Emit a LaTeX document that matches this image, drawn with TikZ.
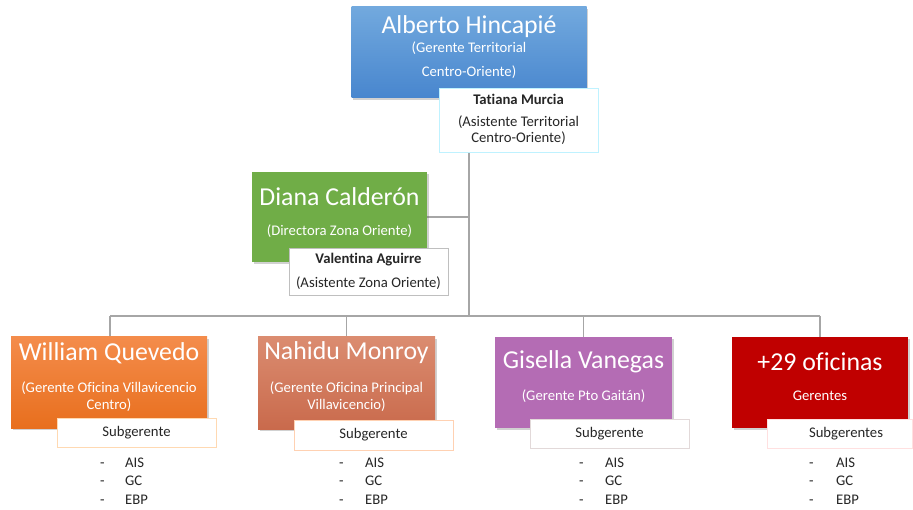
\documentclass[tikz,border=0pt]{standalone}
\usepackage{fontspec}
\setmainfont{Carlito}[RawFeature={-liga}]
\usetikzlibrary{backgrounds,shadows}
\definecolor{lnc}{HTML}{A6A6A6}
\definecolor{bluetop}{HTML}{72A9DE}
\definecolor{bluebot}{HTML}{4886CE}
\definecolor{greenc}{HTML}{70AD47}
\definecolor{orgtop}{HTML}{F48C4B}
\definecolor{orgbot}{HTML}{E86F1E}
\definecolor{saltop}{HTML}{DB8C70}
\definecolor{salbot}{HTML}{C96A4C}
\definecolor{purpc}{HTML}{B46CB4}
\definecolor{redc}{HTML}{C00000}
\definecolor{txtc}{HTML}{262626}
\tikzset{
  cbox/.style={rectangle, inner sep=0pt, outer sep=0pt, draw=none,
    drop shadow={shadow xshift=1.5pt, shadow yshift=-2pt, opacity=0.3, fill=black!60}},
  wbox/.style={rectangle, inner sep=0pt, outer sep=0pt, fill=white, line width=0.8pt},
  nm/.style={text=white, font=\fontsize{25.8}{28}\selectfont, inner sep=0pt},
  st/.style={text=white, font=\fontsize{14.7}{16}\selectfont, inner sep=0pt},
  wt/.style={text=txtc, font=\fontsize{14.7}{16}\selectfont, inner sep=0pt},
  wb/.style={text=txtc, font=\bfseries\fontsize{14.7}{16}\selectfont, inner sep=0pt},
  li/.style={text=txtc, font=\fontsize{14.7}{16}\selectfont, inner sep=0pt, anchor=west,
    text height=10pt, text depth=3pt},
  conn/.style={draw=lnc, line width=1.2pt}
}
\begin{document}
\begin{tikzpicture}[x=1pt,y=-1pt]
\useasboundingbox (0,0) rectangle (913,510);

% Top: Alberto
\node[cbox, top color=bluetop, bottom color=bluebot, minimum width=235pt, minimum height=91pt] (alberto) at (469,52.5) {};
\node[nm] (albertoN) at (469,27) {Alberto Hincapié};
\node[st] (albertoS1) at (469,48) {(Gerente Territorial};
\node[st] (albertoS2) at (469,72) {Centro-Oriente)};
\node[wbox, draw=blue!20!cyan!25, minimum width=159pt, minimum height=64pt] (tatiana) at (518.5,120) {};
\node[wb] (tatianaN) at (518.5,99) {Tatiana Murcia};
\node[wt] (tatianaS1) at (518.5,122) {(Asistente Territorial};
\node[wt] (tatianaS2) at (518.5,138) {Centro-Oriente)};

% Diana
\node[cbox, fill=greenc, minimum width=175pt, minimum height=90pt] (diana) at (339.5,217) {};
\node[nm] (dianaN) at (339.5,197) {Diana Calderón};
\node[st] (dianaS) at (339.5,231) {(Directora Zona Oriente)};
\node[wbox, draw=black!25, minimum width=159pt, minimum height=47pt] (valentina) at (368.5,271.5) {};
\node[wb] (valentinaN) at (368.5,260) {Valentina Aguirre};
\node[wt] (valentinaS) at (368.5,283) {(Asistente Zona Oriente)};

% Junction coordinates
\coordinate (jtop) at (469,316);
\coordinate (jdiana) at (469,217);
\coordinate (jl) at (110,316);
\coordinate (jr) at (820,316);

% William
\node[cbox, top color=orgtop, bottom color=orgbot, minimum width=196pt, minimum height=91pt] (william) at (109,382.5) {};
\node[nm] (williamN) at (109,353) {William Quevedo};
\node[st] (williamS1) at (109,388) {(Gerente Oficina Villavicencio};
\node[st] (williamS2) at (109,405) {Centro)};
\node[wbox, draw=orange!30, minimum width=159pt, minimum height=29pt] (williamSub) at (136.5,432.5) {};
\node[wt] (williamSubT) at (136.5,433) {Subgerente};
\node[li] (w1d) at (100,464) {-}; \node[li] (w1) at (125,464) {AIS};
\node[li] (w2d) at (100,482) {-}; \node[li] (w2) at (125,482) {GC};
\node[li] (w3d) at (100,501) {-}; \node[li] (w3) at (125,501) {EBP};

% Nahidu
\node[cbox, top color=saltop, bottom color=salbot, minimum width=177pt, minimum height=92pt] (nahidu) at (346.5,383) {};
\node[nm] (nahiduN) at (346.5,353) {Nahidu Monroy};
\node[st] (nahiduS1) at (346.5,388) {(Gerente Oficina Principal};
\node[st] (nahiduS2) at (346.5,405) {Villavicencio)};
\node[wbox, draw=red!20!orange!30, minimum width=159pt, minimum height=30pt] (nahiduSub) at (373.5,435) {};
\node[wt] (nahiduSubT) at (373.5,435) {Subgerente};
\node[li] (n1d) at (339,464) {-}; \node[li] (n1) at (365,464) {AIS};
\node[li] (n2d) at (339,482) {-}; \node[li] (n2) at (365,482) {GC};
\node[li] (n3d) at (339,501) {-}; \node[li] (n3) at (365,501) {EBP};

% Gisella
\node[cbox, fill=purpc, minimum width=177pt, minimum height=91pt] (gisella) at (583.5,382.5) {};
\node[nm] (gisellaN) at (583.5,362) {Gisella Vanegas};
\node[st] (gisellaS) at (583.5,396) {(Gerente Pto Gaitán)};
\node[wbox, draw=red!25!black!15, minimum width=159pt, minimum height=29pt] (gisellaSub) at (609.5,433.5) {};
\node[wt] (gisellaSubT) at (609.5,434) {Subgerente};
\node[li] (g1d) at (579,464) {-}; \node[li] (g1) at (605,464) {AIS};
\node[li] (g2d) at (579,482) {-}; \node[li] (g2) at (605,482) {GC};
\node[li] (g3d) at (579,501) {-}; \node[li] (g3) at (605,501) {EBP};

% +29
\node[cbox, fill=redc, minimum width=176pt, minimum height=91pt] (otras) at (820,382.5) {};
\node[nm] (otrasN) at (820,362) {+29 oficinas};
\node[st] (otrasS) at (820,396) {Gerentes};
\node[wbox, draw=red!12, minimum width=145pt, minimum height=29pt] (otrasSub) at (840,433.5) {};
\node[wt] (otrasSubT) at (846,434) {Subgerentes};
\node[li] (o1d) at (809,464) {-}; \node[li] (o1) at (836,464) {AIS};
\node[li] (o2d) at (809,482) {-}; \node[li] (o2) at (836,482) {GC};
\node[li] (o3d) at (809,501) {-}; \node[li] (o3) at (836,501) {EBP};

\begin{scope}[on background layer]
\draw[conn] (alberto.south) -- (jtop);
\draw[conn] (diana.east) -- (jdiana);
\draw[conn] (jl) -- (jr);
\draw[conn] (jl) -- (william.north -| jl);
\draw[conn] (nahidu.north |- jtop) -- (nahidu.north);
\draw[conn] (gisella.north |- jtop) -- (gisella.north);
\draw[conn] (jr) -- (otras.north);
\end{scope}
\end{tikzpicture}
\end{document}
